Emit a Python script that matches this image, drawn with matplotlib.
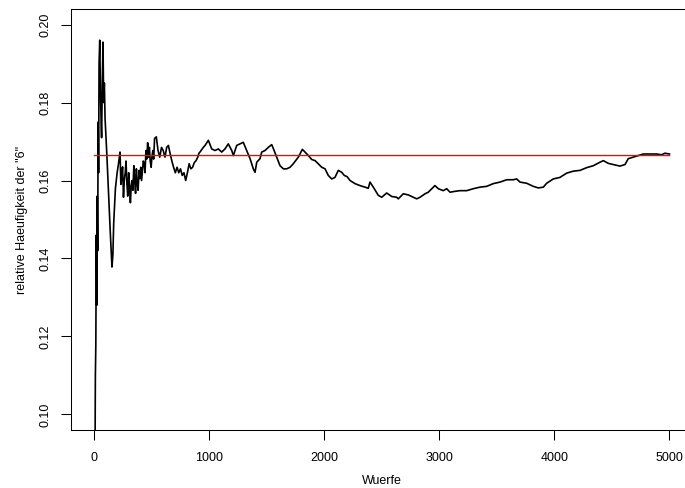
import matplotlib
matplotlib.use("Agg")
import matplotlib.pyplot as plt

# Number of throws (Wuerfe) and relative frequency of a "6"
wuerfe = [1, 6, 12, 16, 20, 24, 28, 32, 36, 40, 44, 48, 54, 60, 66, 70, 76, 82, 88, 94,
          100, 115, 130, 145, 160, 168, 175, 190, 205, 220, 230, 237, 245, 252, 260, 267,
          275, 282, 290, 297, 305, 312, 320, 327, 335, 342, 350, 357, 365, 372, 380, 387,
          395, 402, 410, 417, 425, 432, 440, 447, 455, 462, 470, 477, 485, 492, 500, 507,
          515, 522, 530, 545,
          560, 575, 590, 605, 620, 635, 650, 665, 680, 695, 710, 725, 740, 755, 770, 785,
          800, 815, 830, 845, 860, 875, 890, 905, 915,
          924, 953, 968, 997, 1026, 1055, 1083, 1113, 1141, 1170, 1200, 1214, 1243, 1272,
          1300, 1330, 1359, 1387, 1402, 1417, 1445, 1460, 1489, 1517, 1547, 1561, 1590,
          1619, 1648, 1677, 1706, 1734, 1778, 1813, 1836, 1865, 1894, 1923, 1951, 1981,
          2010, 2038, 2068, 2096, 2125, 2155, 2177, 2201, 2227, 2270, 2313, 2357, 2385,
          2400, 2429, 2472, 2502, 2545, 2589, 2632, 2646, 2689, 2733, 2776, 2806, 2834,
          2878, 2906, 2936, 2964, 2993, 3036, 3066, 3095, 3132, 3181, 3240, 3297, 3355,
          3413, 3470, 3529, 3587, 3644, 3674, 3702, 3760, 3818, 3861, 3905, 3934, 3991,
          4049, 4108, 4165, 4223, 4281, 4339, 4397, 4426, 4469, 4512, 4570, 4614, 4642,
          4686, 4729, 4773, 4831, 4889, 4932, 4960, 5000]
rel_haeufigkeit = [0.0, 0.0, 0.083, 0.110, 0.118, 0.146, 0.128, 0.156, 0.142, 0.175, 0.162,
                   0.190, 0.196, 0.183, 0.175, 0.171, 0.185, 0.1955, 0.180, 0.185,
                   0.176, 0.167, 0.157, 0.147, 0.1378, 0.141, 0.149, 0.158, 0.162, 0.165,
                   0.1673, 0.1590, 0.161, 0.1635, 0.1557, 0.1600, 0.162, 0.1650, 0.159,
                   0.1560, 0.162, 0.1590, 0.1543, 0.1585, 0.160, 0.1575, 0.1638, 0.1600,
                   0.1567, 0.1630, 0.159, 0.1575, 0.1626, 0.1605, 0.1634, 0.1600, 0.1626,
                   0.1650, 0.1643, 0.1620, 0.1677, 0.1655, 0.1697, 0.1660, 0.1685, 0.1650,
                   0.1634, 0.1660, 0.1677, 0.1655, 0.1708, 0.1712,
                   0.1677, 0.1660, 0.1685, 0.1677, 0.1660,
                   0.1685, 0.1690, 0.1669, 0.1650, 0.1634, 0.1620, 0.1634, 0.1620, 0.1630,
                   0.1613, 0.1620, 0.1600, 0.1620, 0.1643, 0.1630, 0.1634, 0.1646, 0.1651,
                   0.1660, 0.1670,
                   0.1673, 0.1685, 0.1690, 0.1703, 0.1681, 0.1677, 0.1681, 0.1673, 0.1681,
                   0.1694, 0.1677, 0.1664, 0.1690, 0.1694, 0.1698, 0.1677, 0.1656, 0.1630,
                   0.1621, 0.1647, 0.1656, 0.1673, 0.1677, 0.1685, 0.1692, 0.1682, 0.1660,
                   0.1638, 0.1630, 0.1630, 0.1634, 0.1643, 0.1660, 0.1680, 0.1673, 0.1664,
                   0.1654, 0.1651, 0.1643, 0.1634, 0.1630, 0.1613, 0.1604, 0.1608, 0.1626,
                   0.1621, 0.1613, 0.1610, 0.1600, 0.1592, 0.1587, 0.1583, 0.1580, 0.1596,
                   0.1583, 0.1562, 0.1557, 0.1568, 0.1559, 0.1557, 0.1553, 0.1566, 0.1563,
                   0.1557, 0.1553, 0.1557, 0.1566, 0.1570, 0.1579, 0.1587, 0.1579, 0.1574,
                   0.1579, 0.1570, 0.1572, 0.1574, 0.1574, 0.1579, 0.1583, 0.1585, 0.1592,
                   0.1596, 0.1602, 0.1602, 0.1604, 0.1596, 0.1593, 0.1585, 0.1581, 0.1583,
                   0.1593, 0.1604, 0.1608, 0.1619, 0.1624, 0.1626, 0.1633, 0.1638, 0.1647,
                   0.1651, 0.1644, 0.1641, 0.1637, 0.1641, 0.1656, 0.1660, 0.1664, 0.1668,
                   0.1668, 0.1668, 0.1666, 0.1670, 0.1668]
theorie = 1 / 6
x_ticks = [0, 1000, 2000, 3000, 4000, 5000]
y_ticks = [0.10, 0.12, 0.14, 0.16, 0.18, 0.20]
y_tick_labels = ["0.10", "0.12", "0.14", "0.16", "0.18", "0.20"]

plt.rcParams['font.family'] = ['Liberation Sans', 'DejaVu Sans']

W, H = 685, 488
fig = plt.figure(figsize=(W / 100, H / 100), dpi=100)
ax = fig.add_axes([70.5 / W, (H - 430) / H, 622 / W, 421 / H])

ax.plot(wuerfe, rel_haeufigkeit, color='black', lw=1.2, zorder=2)
ax.plot([0, 5000], [theorie, theorie], color='red', lw=1.0, zorder=3)

ax.set_xlim(-199.96, 5199.96)
ax.set_ylim(0.096, 0.204)
ax.set_xticks(x_ticks)
ax.set_xticklabels([str(t) for t in x_ticks])
ax.set_yticks(y_ticks)
ax.set_yticklabels(y_tick_labels, rotation=90, va='center')
ax.tick_params(axis='both', length=7, width=0.75, labelsize=9, color='black', labelcolor='black')
ax.tick_params(axis='x', pad=9)
ax.tick_params(axis='y', pad=7)
for s in ax.spines.values():
    s.set_linewidth(0.75)

ax.set_xlabel('Wuerfe', fontsize=9)
ax.xaxis.set_label_coords(0.5, -0.12)
ax.xaxis.label.set_va('center')
ax.set_ylabel('relative Haeufigkeit der "6"', fontsize=9)
ax.yaxis.set_label_coords(-0.078, 0.5)
ax.yaxis.label.set_va('center')

fig.savefig('out.png', dpi=100)
